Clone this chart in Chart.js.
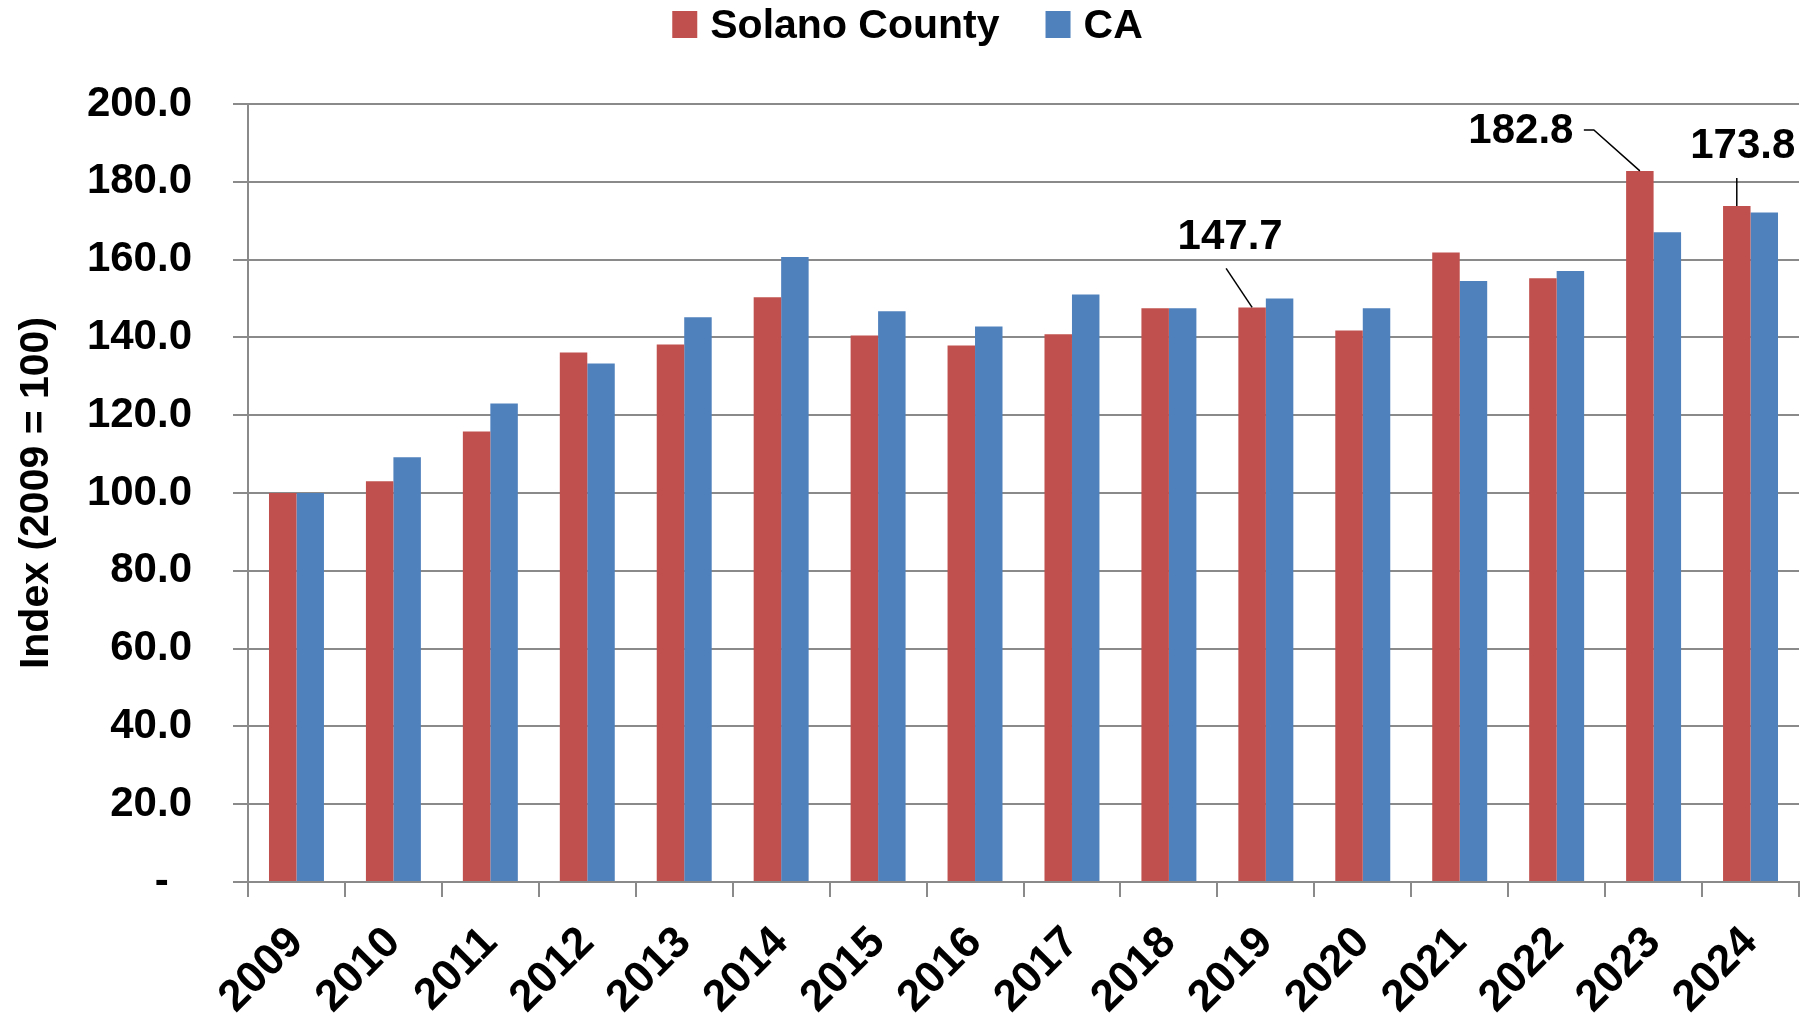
<!DOCTYPE html>
<html><head><meta charset="utf-8">
<script src="https://cdn.jsdelivr.net/npm/chart.js@4/dist/chart.umd.min.js"></script>
<style>html,body{margin:0;padding:0;background:#fff;}</style>
</head><body>
<canvas id="c" width="1815" height="1014"></canvas>
<script>
// ---- data ----
const categories = ['2009','2010','2011','2012','2013','2014','2015','2016','2017','2018','2019','2020','2021','2022','2023','2024'];
const seriesNames = ['Solano County', 'CA'];
const solanoValues = [100.0, 103.0, 115.8, 136.1, 138.2, 150.3, 140.5, 137.9, 140.8, 147.5, 147.7, 141.8, 161.8, 155.2, 182.8, 173.8];
const caValues     = [100.0, 109.2, 123.0, 133.3, 145.2, 160.7, 146.7, 142.8, 151.0, 147.5, 150.0, 147.5, 154.5, 157.1, 167.0, 172.1];
const yTickValues = [0, 20, 40, 60, 80, 100, 120, 140, 160, 180, 200];
const yTickLabels = ['-  ', '20.0', '40.0', '60.0', '80.0', '100.0', '120.0', '140.0', '160.0', '180.0', '200.0'];
const yAxisTitle = 'Index (2009 = 100)';
const labeledIndexes = [10, 14, 15]; // Solano values shown with a data label

// ---- styles ----
const FONT = "'Liberation Sans', Arial, sans-serif";
const RED = '#C0504D', BLUE = '#4F81BD', GRID = '#8a8a8a';
// leader-line layout for labels (offsets from bar top centre, px)
const labelLayout = {
  10: {text: [-22, -70], line: [[0, 0], [-26, -39]]},
  14: {text: [-119, -39], line: [[0, 0], [-46, -41], [-56, -41]]},
  15: {text: [6, -59], line: [[0, 0], [0, -28]]}
};

const legendPlugin = {
  id: 'customLegend',
  afterDraw(chart) {
    const ctx = chart.ctx;
    ctx.save();
    ctx.font = 'bold 41px ' + FONT;
    const box = 25, gap = 13, itemGap = 46;
    const items = chart.data.datasets.map(d => ({name: d.label, color: d.backgroundColor, w: ctx.measureText(d.label).width}));
    let total = 0;
    items.forEach((it, i) => { total += box + gap + it.w + (i ? itemGap : 0); });
    let x = chart.width / 2 - total / 2;
    items.forEach(it => {
      ctx.fillStyle = it.color;
      ctx.fillRect(x, 11, box, 27);
      ctx.fillStyle = '#000';
      ctx.textBaseline = 'alphabetic';
      ctx.textAlign = 'left';
      ctx.fillText(it.name, x + box + gap, 38);
      x += box + gap + it.w + itemGap;
    });
    ctx.restore();
  }
};

const dataLabelPlugin = {
  id: 'leaderLabels',
  afterDatasetsDraw(chart) {
    const ctx = chart.ctx;
    const meta = chart.getDatasetMeta(0);
    ctx.save();
    labeledIndexes.forEach(i => {
      const bar = meta.data[i];
      const cfg = labelLayout[i];
      const bx = bar.x, by = bar.y;
      ctx.strokeStyle = '#000';
      ctx.lineWidth = 1.5;
      ctx.beginPath();
      cfg.line.forEach((p, k) => { if (k === 0) ctx.moveTo(bx + p[0], by + p[1]); else ctx.lineTo(bx + p[0], by + p[1]); });
      ctx.stroke();
      ctx.fillStyle = '#000';
      ctx.font = 'bold 42px ' + FONT;
      ctx.textAlign = 'center';
      ctx.textBaseline = 'middle';
      ctx.fillText(chart.data.datasets[0].data[i].toFixed(1), bx + cfg.text[0], by + cfg.text[1]);
    });
    ctx.restore();
  }
};

new Chart(document.getElementById('c'), {
  type: 'bar',
  data: {
    labels: categories,
    datasets: [
      {label: seriesNames[0], data: solanoValues, backgroundColor: RED},
      {label: seriesNames[1], data: caValues, backgroundColor: BLUE}
    ]
  },
  options: {
    responsive: false,
    animation: false,
    devicePixelRatio: 1,
    layout: {padding: {top: 104, right: 16, bottom: 0, left: 0}},
    datasets: {bar: {categoryPercentage: 0.567, barPercentage: 1.0}},
    plugins: {legend: {display: false}, tooltip: {enabled: false}},
    scales: {
      x: {
        offset: true,
        grid: {offset: true, drawOnChartArea: false, drawTicks: true, tickLength: 15, color: GRID, lineWidth: 2},
        border: {color: GRID, width: 2},
        ticks: {
          color: '#000', font: {family: FONT, size: 44, weight: 'bold'},
          minRotation: 45, maxRotation: 45, padding: 20, autoSkip: false
        },
        afterFit(s) { s.height = 132; }
      },
      y: {
        min: 0, max: 200,
        grid: {color: GRID, lineWidth: 2, drawTicks: true, tickLength: 15},
        border: {color: GRID, width: 2},
        ticks: {
          stepSize: 20, color: '#000', padding: 41,
          font: {family: FONT, size: 42, weight: 'bold'},
          callback: v => { const k = yTickValues.indexOf(v); return k >= 0 ? yTickLabels[k] : ''; }
        },
        title: {display: true, text: yAxisTitle, color: '#000', font: {family: FONT, size: 41, weight: 'bold'}, padding: {top: 12, bottom: 0}},
        afterFit(s) { s.width = 248; }
      }
    }
  },
  plugins: [legendPlugin, dataLabelPlugin]
});
</script>
</body></html>
